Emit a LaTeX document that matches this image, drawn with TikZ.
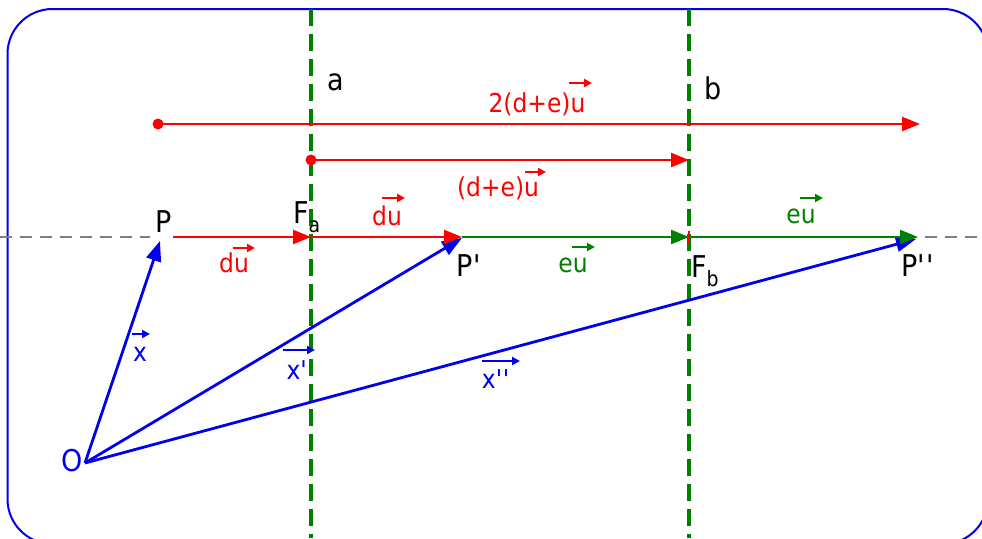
\documentclass[tikz,border=0pt]{standalone}
\usepackage{fontspec}
\setmainfont{DejaVu Sans}[FakeStretch=0.9]
\usetikzlibrary{arrows.meta,calc}
\definecolor{dgreen}{RGB}{0,128,0}
\definecolor{vblue}{RGB}{0,0,235}
\definecolor{vred}{RGB}{255,0,0}
\newcommand{\pr}{\textquotesingle}
\begin{document}
\begin{tikzpicture}[x=1pt,y=-1pt,
  blab/.style={inner sep=0pt,font=\fontsize{30}{34}\selectfont,text=black},
  clab/.style={inner sep=0pt,font=\fontsize{26}{30}\selectfont},
  bluevec/.style={vblue,line width=2.8pt,-{Triangle[length=20pt,width=15pt]}},
  redvec/.style={vred,line width=2.5pt,-{Triangle[length=18pt,width=14pt]}},
  grnvec/.style={dgreen,line width=2.5pt,-{Triangle[length=18pt,width=14pt]}},
  ovr/.style={line width=2.2pt,-{Triangle[length=8pt,width=8pt]}},
  axisline/.style={gray,line width=1.6pt,dash pattern=on 12pt off 8pt},
  guide/.style={dgreen,line width=3.3pt,dash pattern=on 17pt off 8pt},
  reddot/.style={circle,fill=vred,inner sep=0pt,minimum size=11pt}]
\useasboundingbox (0,0) rectangle (982,538);
% frame
\draw[vblue,line width=2pt,rounded corners=45pt] (7.5,9) rectangle (988,544);
% axis
\coordinate (axL) at (0,237);
\coordinate (axLe) at (150,237);
\coordinate (axR) at (925,237);
\coordinate (axRe) at (982,237);
\draw[axisline] (axL) -- (axLe);
\draw[axisline] (axR) -- (axRe);
% guide lines
\coordinate (gaT) at (311,9);
\coordinate (gaB) at (311,538);
\coordinate (gbT) at (689,9);
\coordinate (gbB) at (689,538);
\draw[guide] (gaT) -- (gaB);
\draw[guide] (gbT) -- (gbB);
% points
\coordinate (O) at (85,463);
\coordinate (P) at (160,241);
\coordinate (Ps) at (173,237);
\coordinate (Fa) at (311,237);
\coordinate (Pp) at (462,237);
\coordinate (Fb) at (689,237);
\coordinate (Ppp) at (918,237);
% blue position vectors
\draw[bluevec] (O) -- (P);
\draw[bluevec] (O) -- ($(Pp)+(0,1)$);
\draw[bluevec] (O) -- ($(Ppp)+(-2,2)$);
% displacement arrows on the axis
\draw[redvec] (Ps) -- (Fa);
\draw[redvec] (Fa) -- (Pp);
\draw[grnvec] (Pp) -- (Fb);
\draw[grnvec] (Fb) -- (Ppp);
\coordinate (tickT) at (689,231);
\coordinate (tickB) at (689,244);
\draw[vred,line width=2pt] (tickT) -- (tickB);
% top red arrows
\node[reddot] (s1) at (158,124) {};
\coordinate (e1) at (920,124);
\draw[redvec] (s1.center) -- (e1);
\node[reddot] (s2) at (311,160) {};
\coordinate (e2) at (689,160);
\draw[redvec] (s2.center) -- (e2);
% black labels
\node[blab] (la) at (336,82) {a};
\node[blab] (lb) at (713,88) {b};
\node[blab] (lP) at (164,222) {P};
\node[blab,anchor=base west] (lFa) at (293,223) {F\raisebox{-0.3em}{\fontsize{21}{21}\selectfont a}};
\node[blab] (lPp) at (469,266) {P\pr};
\node[blab,anchor=base west] (lFb) at (691,277) {F\raisebox{-0.3em}{\fontsize{21}{21}\selectfont b}};
\node[blab] (lPpp) at (918,266) {P\pr\pr};
\node[blab,text=vblue] (lO) at (72,461) {O};
% red labels
\node[clab,text=vred] (l2de) at (537,104) {2(d+e)u};
\draw[ovr,vred] ($(l2de)+(32,-21)$) -- ($(l2de)+(55,-21)$);
\node[clab,text=vred] (lde) at (498,188) {(d+e)u};
\draw[ovr,vred] ($(lde)+(27,-16)$) -- ($(lde)+(48,-16)$);
\node[clab,text=vred] (ldu1) at (234,263) {du};
\draw[ovr,vred] ($(ldu1)+(-1,-15)$) -- ($(ldu1)+(21,-15)$);
\node[clab,text=vred] (ldu2) at (387,216) {du};
\draw[ovr,vred] ($(ldu2)+(-5,-18)$) -- ($(ldu2)+(18,-18)$);
% green labels
\node[clab,text=dgreen] (leu1) at (573,265) {eu};
\draw[ovr,dgreen] ($(leu1)+(-1,-18)$) -- ($(leu1)+(22,-18)$);
\node[clab,text=dgreen] (leu2) at (801,216) {eu};
\draw[ovr,dgreen] ($(leu2)+(-1,-18)$) -- ($(leu2)+(22,-18)$);
% blue labels
\node[clab,text=vblue] (lx) at (140,354) {x};
\draw[ovr,vblue] ($(lx)+(-8,-20)$) -- ($(lx)+(10,-20)$);
\node[clab,text=vblue] (lxp) at (297,370) {x\pr};
\draw[ovr,vblue] ($(lxp)+(-14,-20)$) -- ($(lxp)+(18,-20)$);
\node[clab,text=vblue] (lxpp) at (496,379) {x\pr\pr};
\draw[ovr,vblue] ($(lxpp)+(-14,-18)$) -- ($(lxpp)+(24,-18)$);
\end{tikzpicture}
\end{document}
